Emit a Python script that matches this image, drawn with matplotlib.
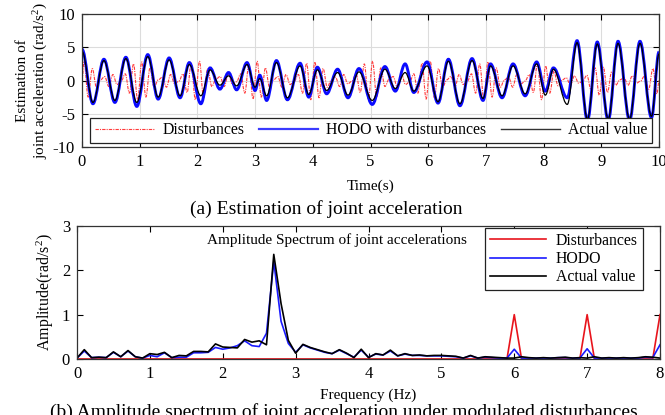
import numpy as np
import matplotlib
matplotlib.use('Agg')
import matplotlib.pyplot as plt
from matplotlib.path import Path
from matplotlib.patches import PathPatch

plt.rcParams['font.family'] = ['Liberation Serif', 'DejaVu Serif']
plt.rcParams['mathtext.fontset'] = 'custom'
plt.rcParams['mathtext.rm'] = 'Liberation Serif'
plt.rcParams['mathtext.it'] = 'Liberation Serif:italic'
plt.rcParams['axes.unicode_minus'] = False

# ---- (a) time domain: extrema ----
act_t = [0.0, 0.19, 0.38, 0.57, 0.76, 0.95, 1.14, 1.32, 1.51, 1.70, 1.86, 2.06, 2.22, 2.39,
         2.54, 2.68, 2.86, 3.0, 3.08, 3.2, 3.37, 3.56, 3.78, 3.93, 4.08, 4.24, 4.43, 4.61,
         4.8, 5.03, 5.25, 5.43, 5.6, 5.75, 5.98, 6.17, 6.35, 6.55, 6.76, 6.95, 7.08, 7.28,
         7.47, 7.68, 7.88, 8.03, 8.17, 8.41, 8.58, 8.76, 8.93, 9.12, 9.29, 9.49, 9.67, 9.87, 10.0]
act_v = [4.4, -3.3, 3.0, -3.0, 3.3, -3.3, 3.6, -2.5, 3.1, -2.3, 2.4, -2.3, 1.6, -0.7,
         0.7, -0.8, 2.4, -1.0, 0.3, -2.3, 2.7, -2.6, 2.2, -2.1, 1.6, -1.5, 1.2, -2.2,
         1.3, -3.0, 1.7, -1.2, 1.2, -1.6, 2.2, -3.2, 2.9, -3.5, 3.0, -2.7, 2.2, -2.3,
         2.2, -2.0, 2.5, -2.2, 1.7, -3.6, 5.7, -5.8, 5.5, -5.8, 5.6, -5.8, 5.6, -5.4, 4.0]
hodo_v = [4.7, -3.5, 3.2, -3.3, 3.5, -3.9, 3.9, -2.8, 3.4, -2.6, 2.7, -3.5, 1.9, -1.3,
          1.2, -1.4, 2.7, -1.5, 0.8, -3.0, 3.0, -2.9, 2.6, -2.5, 2.0, -2.0, 1.7, -2.6,
          1.8, -3.6, 2.1, -1.6, 2.5, -1.8, 2.8, -3.4, 3.2, -3.8, 3.3, -3.0, 2.5, -2.6,
          2.5, -2.3, 2.8, -1.6, 1.9, -2.6, 6.0, -6.0, 5.8, -6.0, 5.9, -6.0, 5.9, -5.6, 4.3]

# disturbance extrema, one row per second (14 half periods)
dist_v = [
    2.9, -2.5, 1.8, -1.0, 0.1, 0.6, -0.9, 0.9, -0.6, -0.1, 1.0, -1.9, 2.5, -2.9,
    2.8, -2.5, 1.9, -1.0, 0.1, 0.5, -1.0, 0.9, -0.5, -0.1, 1.0, -1.8, 2.6, -2.9,
    2.9, -2.6, 1.8, -0.9, 0.2, 0.6, -0.9, 1.0, -0.6, -0.2, 1.0, -1.9, 2.5, -2.8,
    2.9, -2.5, 1.9, -1.0, 0.1, 0.6, -1.0, 0.9, -0.6, -0.1, 0.9, -1.9, 2.6, -2.9,
    2.8, -2.6, 1.8, -1.0, 0.1, 0.5, -0.9, 0.9, -0.5, -0.1, 1.0, -1.8, 2.5, -2.9,
    2.9, -2.5, 1.9, -0.9, 0.2, 0.6, -1.0, 1.0, -0.6, -0.2, 1.0, -1.9, 2.6, -2.8,
    2.9, -2.6, 1.8, -1.0, 0.1, 0.6, -0.9, 0.9, -0.6, -0.1, 1.0, -1.9, 2.5, -2.9,
    2.8, -2.5, 1.9, -1.0, 0.1, 0.5, -1.0, 0.9, -0.5, -0.1, 0.9, -1.8, 2.6, -2.9,
    2.2, -1.9, 1.4, -0.8, 0.1, 0.4, -0.7, 0.7, -0.4, -0.1, 0.8, -1.4, 1.9, -2.2,
    2.0, -1.8, 1.3, -0.7, 0.1, 0.4, -0.7, 0.7, -0.4, -0.1, 0.7, -1.3, 1.8, -2.0,
]
dist_t = (np.arange(len(dist_v)) + 0.5) / 14.0

time_ticks = list(range(0, 11))

# ---- (b) amplitude spectrum ----
freq = np.round(np.arange(0, 8.01, 0.1), 1)
spec_actual = [0.02, 0.21, 0.03, 0.04, 0.03, 0.16, 0.05, 0.19, 0.05, 0.02,
               0.12, 0.10, 0.15, 0.03, 0.08, 0.07, 0.17, 0.17, 0.16, 0.34,
               0.27, 0.26, 0.25, 0.44, 0.38, 0.41, 0.32, 2.36, 1.25, 0.42,
               0.13, 0.33, 0.26, 0.21, 0.16, 0.12, 0.21, 0.13, 0.03, 0.22,
               0.03, 0.12, 0.09, 0.20, 0.07, 0.12, 0.08, 0.09, 0.07, 0.08,
               0.08, 0.07, 0.06, 0.02, 0.08, 0.02, 0.05, 0.04, 0.03, 0.02,
               0.02, 0.05, 0.03, 0.02, 0.03, 0.02, 0.03, 0.04, 0.02, 0.03,
               0.02, 0.05, 0.02, 0.03, 0.02, 0.03, 0.02, 0.03, 0.05, 0.04, 0.02]
spec_hodo = [0.02, 0.18, 0.03, 0.04, 0.03, 0.15, 0.05, 0.18, 0.05, 0.02,
             0.08, 0.05, 0.14, 0.03, 0.04, 0.04, 0.14, 0.14, 0.15, 0.26,
             0.22, 0.25, 0.30, 0.41, 0.30, 0.28, 0.58, 2.20, 0.85, 0.35,
             0.15, 0.32, 0.25, 0.20, 0.15, 0.12, 0.20, 0.12, 0.04, 0.20,
             0.04, 0.11, 0.09, 0.18, 0.07, 0.11, 0.08, 0.08, 0.07, 0.07,
             0.07, 0.06, 0.05, 0.02, 0.07, 0.02, 0.04, 0.03, 0.02, 0.02,
             0.22, 0.02, 0.02, 0.02, 0.02, 0.02, 0.03, 0.03, 0.02, 0.02,
             0.23, 0.02, 0.02, 0.02, 0.02, 0.02, 0.02, 0.02, 0.04, 0.03, 0.32]
spec_dist = [0.0] * 81
spec_dist[60] = 1.0
spec_dist[70] = 1.0
spec_dist[80] = 1.0


def smooth_path(t, v):
    # cubic segments with flat tangents at each extremum (half-sine shape)
    verts = [(t[0], v[0])]
    codes = [Path.MOVETO]
    for i in range(len(t) - 1):
        dt = t[i + 1] - t[i]
        verts += [(t[i] + 0.364 * dt, v[i]), (t[i + 1] - 0.364 * dt, v[i + 1]), (t[i + 1], v[i + 1])]
        codes += [Path.CURVE4] * 3
    return Path(verts, codes)


fig = plt.figure(figsize=(6.65, 4.15), dpi=100)

# ---------- top axes ----------
ax1 = fig.add_axes([0.1233, 0.646, 0.8677, 0.320])
dist_style = dict(color='#ff3b3b', lw=0.8, ls=(0, (3, 1, 1, 1)))
ax1.add_patch(PathPatch(smooth_path(np.concatenate([[0.0], dist_t, [10.0]]), [0.0] + dist_v + [0.0]),
                        fill=False, edgecolor=dist_style['color'], lw=dist_style['lw'],
                        ls=dist_style['ls'], zorder=2))
ax1.add_patch(PathPatch(smooth_path(act_t, hodo_v), fill=False, edgecolor='#0a0aff',
                        lw=2.1, zorder=2.1))
ax1.add_patch(PathPatch(smooth_path(act_t, act_v), fill=False, edgecolor='black',
                        lw=0.9, zorder=2.2))
ax1.plot([], [], label='Disturbances', **dist_style)
ax1.plot([], [], label='HODO with disturbances', color='#3a3aff', lw=1.6)
ax1.plot([], [], label='Actual value', color='#333333', lw=1.0)
ax1.set_xlim(0, 10)
ax1.set_ylim(-10, 10)
ax1.set_xticks(time_ticks)
ax1.set_yticks([-10, -5, 0, 5, 10])
ax1.grid(True, color='#dcdcdc', lw=0.8)
ax1.tick_params(direction='in', top=True, right=True, labelsize=12, length=4, pad=5)
ax1.set_xlabel('Time(s)', fontsize=11, labelpad=7)
ax1.set_ylabel('Estimation of\njoint acceleration (rad/s$^2$)', fontsize=11, labelpad=2)
leg1 = ax1.legend(loc='lower left', bbox_to_anchor=(0.014, 0.03, 0.974, 0.2), mode='expand',
                  ncol=3, fontsize=11.3, frameon=True, fancybox=False, handlelength=3.8,
                  borderpad=0.3, handletextpad=0.5, borderaxespad=0)
leg1.get_frame().set_edgecolor('#222222')
leg1.get_frame().set_linewidth(0.9)
leg1.get_frame().set_alpha(1)
leg1.set_zorder(10)
for sp in ax1.spines.values():
    sp.set_color('#333333')
    sp.set_linewidth(0.9)

fig.text(0.49, 0.496, '(a) Estimation of joint acceleration', fontsize=14, ha='center', va='center')

# ---------- bottom axes ----------
ax2 = fig.add_axes([0.1158, 0.135, 0.8767, 0.3204])
ax2.plot(freq, spec_dist, color='#e8141c', lw=1.2, label='Disturbances')
ax2.plot(freq, spec_hodo, color='#1a1aff', lw=1.2, label='HODO')
ax2.plot(freq, spec_actual, color='black', lw=1.2, label='Actual value')
ax2.set_xlim(0, 8)
ax2.set_ylim(0, 3)
ax2.set_xticks(range(0, 9))
ax2.set_yticks([0, 1, 2, 3])
ax2.tick_params(direction='in', top=True, right=True, labelsize=12, length=4, pad=5)
ax2.set_xlabel('Frequency (Hz)', fontsize=11, labelpad=5)
ax2.set_ylabel('Amplitude(rad/s$^2$)', fontsize=11.5, labelpad=4)
ax2.text(0.446, 0.895, 'Amplitude Spectrum of joint accelerations', transform=ax2.transAxes,
         fontsize=11, ha='center', va='center')
leg2 = ax2.legend(loc='upper right', bbox_to_anchor=(0.97, 0.985), fontsize=11.3, frameon=True,
                  fancybox=False, handlelength=3.6, borderpad=0.3, handletextpad=0.6,
                  labelspacing=0.15, borderaxespad=0)
leg2.get_frame().set_edgecolor('#222222')
leg2.get_frame().set_linewidth(0.9)
leg2.get_frame().set_alpha(1)
for sp in ax2.spines.values():
    sp.set_color('#333333')
    sp.set_linewidth(0.9)

fig.text(0.517, 0.029, '(b) Amplitude spectrum of joint acceleration under modulated disturbances',
         fontsize=14, ha='center', va='top')

fig.savefig('out.png', dpi=100)
